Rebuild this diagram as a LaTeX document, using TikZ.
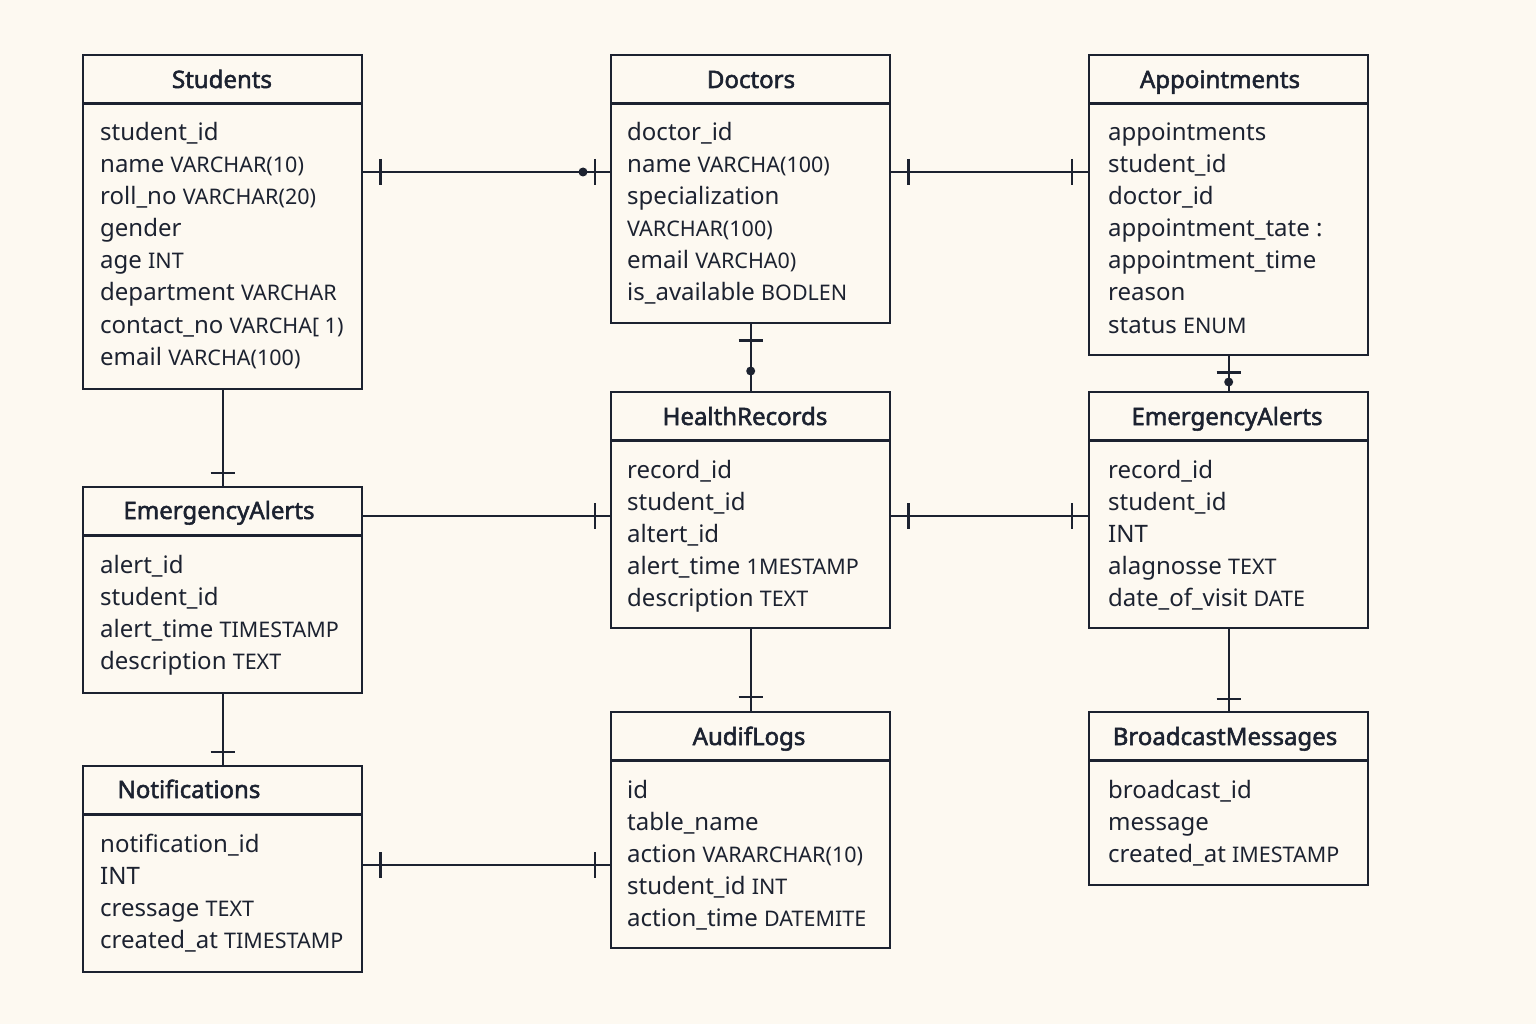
\documentclass[tikz,border=0pt]{standalone}
\usepackage{fontspec}
\setmainfont{Noto Sans}
\newfontfamily\ttlfont{Noto Sans}[FakeBold=2.2]
\usetikzlibrary{calc}
\definecolor{bg}{HTML}{FDF9F1}
\definecolor{ink}{HTML}{1C2230}
\newcommand{\ty}[1]{{\fontsize{21.5}{24}\selectfont #1}}
\begin{document}
\begin{tikzpicture}[x=1pt,y=-1pt,
  ln/.style={draw=ink,line width=2.3pt},
  tbl/.style={draw=ink,line width=2.4pt,inner sep=0pt,anchor=north west,minimum width=279pt},
  ttl/.style={text=ink,font=\fontsize{24}{28}\selectfont\ttlfont,inner sep=0pt,anchor=base},
  fld/.style={text=ink,font=\fontsize{24}{28}\selectfont,inner sep=0pt,anchor=base west},
  dotc/.style={fill=ink,draw=none}]
\fill[bg] (0,0) rectangle (1536,1024);
\useasboundingbox (0,0) rectangle (1536,1024);

% tables
\node[tbl,minimum height=334pt] (stu) at (82,54) {};
\node[tbl,minimum height=268pt] (doc) at (610,54) {};
\node[tbl,minimum height=300pt] (app) at (1088,54) {};
\node[tbl,minimum height=206pt] (eal) at (82,486) {};
\node[tbl,minimum height=236pt] (hr) at (610,391) {};
\node[tbl,minimum height=236pt] (ear) at (1088,391) {};
\node[tbl,minimum height=206pt] (noti) at (82,765) {};
\node[tbl,minimum height=236pt] (aud) at (610,711) {};
\node[tbl,minimum height=173pt] (bc) at (1088,711) {};

% header dividers
\foreach \n in {stu,doc,app,eal,hr,ear,noti,aud,bc}
  \draw[ln,line width=2.4pt] ($(\n.north west)+(0,49.5)$) -- ($(\n.north east)+(0,49.5)$);

% titles
\node[ttl] (stut) at (222,88) {Students};
\node[ttl] (doct) at (751,88) {Doctors};
\node[ttl] (appt) at (1220,88) {Appointments};
\node[ttl] (ealt) at (219,519) {EmergencyAlerts};
\node[ttl] (hrt) at (745,425) {HealthRecords};
\node[ttl] (eart) at (1227,425) {EmergencyAlerts};
\node[ttl] (notit) at (189,798) {Notifications};
\node[ttl] (audt) at (749,745) {AudifLogs};
\node[ttl] (bct) at (1225,745) {BroadcastMessages};

% fields
\foreach \t [count=\i] in {student\_id, name \ty{VARCHAR(10)}, roll\_no \ty{VARCHAR(20)}, gender, age \ty{INT}, department \ty{VARCHAR}, contact\_no \ty{VARCHA[ 1)}, email \ty{VARCHA(100)}}
  \node[fld] (stuf\i) at (100,{141+32*(\i-1)}) {\t};
\foreach \t [count=\i] in {doctor\_id, name \ty{VARCHA(100)}, specialization, \ty{VARCHAR(100)}, email \ty{VARCHA0)}, is\_available \ty{BODLEN}}
  \node[fld] (docf\i) at (627,{141+32*(\i-1)}) {\t};
\foreach \t [count=\i] in {appointments, student\_id, doctor\_id, appointment\_tate :, appointment\_time, reason, status \ty{ENUM}}
  \node[fld] (appf\i) at (1108,{141+32*(\i-1)}) {\t};
\foreach \t [count=\i] in {alert\_id, student\_id, alert\_time \ty{TIMESTAMP}, description \ty{TEXT}}
  \node[fld] (ealf\i) at (100,{573+32*(\i-1)}) {\t};
\foreach \t [count=\i] in {record\_id, student\_id, altert\_id, alert\_time \ty{1MESTAMP}, description \ty{TEXT}}
  \node[fld] (hrf\i) at (627,{478+32*(\i-1)}) {\t};
\foreach \t [count=\i] in {record\_id, student\_id, INT, alagnosse \ty{TEXT}, date\_of\_visit \ty{DATE}}
  \node[fld] (earf\i) at (1108,{478+32*(\i-1)}) {\t};
\foreach \t [count=\i] in {notification\_id, INT, cressage \ty{TEXT}, created\_at \ty{TIMESTAMP}}
  \node[fld] (notif\i) at (100,{852+32*(\i-1)}) {\t};
\foreach \t [count=\i] in {id, table\_name, action \ty{VARARCHAR(10)}, student\_id \ty{INT}, action\_time \ty{DATEMITE}}
  \node[fld] (audf\i) at (627,{798+32*(\i-1)}) {\t};
\foreach \t [count=\i] in {broadcast\_id, message, created\_at \ty{IMESTAMP}}
  \node[fld] (bcf\i) at (1108,{798+32*(\i-1)}) {\t};

% connectors
% Students - Doctors
\coordinate (a1) at ($(stu.north east)+(0,118)$);
\coordinate (b1) at ($(doc.north west)+(0,118)$);
\draw[ln] (a1) -- (b1);
\draw[ln] ($(a1)+(17,-13)$) -- ++(0,26);
\draw[ln] ($(b1)+(-15,-13)$) -- ++(0,26);
\fill[dotc] ($(b1)+(-27,0)$) circle (4.5);
% Doctors - Appointments
\coordinate (a2) at ($(doc.north east)+(0,118)$);
\coordinate (b2) at ($(app.north west)+(0,118)$);
\draw[ln] (a2) -- (b2);
\draw[ln] ($(a2)+(17,-13)$) -- ++(0,26);
\draw[ln] ($(b2)+(-16,-13)$) -- ++(0,26);
% Doctors - HealthRecords
\draw[ln] (doc.south) -- (hr.north);
\draw[ln] ($(doc.south)+(-12,16)$) -- ++(24,0);
\fill[dotc] ($(hr.north)+(0,-20)$) circle (4.5);
% Appointments - EmergencyAlerts (right)
\draw[ln] (app.south) -- (ear.north);
\draw[ln] ($(app.south)+(-12,16)$) -- ++(24,0);
\fill[dotc] ($(ear.north)+(0,-9)$) circle (4.5);
% Students - EmergencyAlerts (left)
\draw[ln] (stu.south) -- (eal.north);
\draw[ln] ($(eal.north)+(-12,-13)$) -- ++(24,0);
% EmergencyAlerts (left) - HealthRecords
\coordinate (a6) at ($(eal.north east)+(0,30)$);
\coordinate (b6) at ($(hr.north west)+(0,125)$);
\draw[ln] (a6) -- (b6);
\draw[ln] ($(b6)+(-15,-13)$) -- ++(0,26);
% HealthRecords - EmergencyAlerts (right)
\coordinate (a7) at ($(hr.north east)+(0,125)$);
\coordinate (b7) at ($(ear.north west)+(0,125)$);
\draw[ln] (a7) -- (b7);
\draw[ln] ($(a7)+(17,-13)$) -- ++(0,26);
\draw[ln] ($(b7)+(-16,-13)$) -- ++(0,26);
% HealthRecords - AudifLogs
\draw[ln] (hr.south) -- (aud.north);
\draw[ln] ($(aud.north)+(-12,-14)$) -- ++(24,0);
% EmergencyAlerts (right) - BroadcastMessages
\draw[ln] (ear.south) -- (bc.north);
\draw[ln] ($(bc.north)+(-12,-12)$) -- ++(24,0);
% EmergencyAlerts (left) - Notifications
\draw[ln] (eal.south) -- (noti.north);
\draw[ln] ($(noti.north)+(-12,-13)$) -- ++(24,0);
% Notifications - AudifLogs
\coordinate (a11) at ($(noti.north east)+(0,100)$);
\coordinate (b11) at ($(aud.north west)+(0,154)$);
\draw[ln] (a11) -- (b11);
\draw[ln] ($(a11)+(17,-13)$) -- ++(0,26);
\draw[ln] ($(b11)+(-15,-13)$) -- ++(0,26);
\end{tikzpicture}
\end{document}
